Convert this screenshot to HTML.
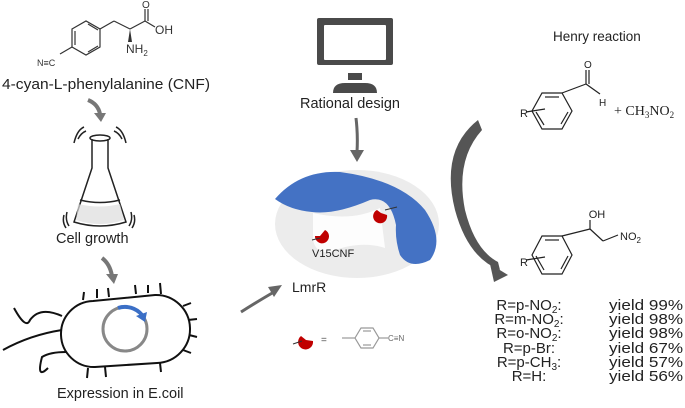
<!DOCTYPE html>
<html><head><meta charset="utf-8"><style>
html,body{margin:0;padding:0;background:#fff;}
svg{display:block;font-family:"Liberation Sans",Arial,sans-serif;}
</style></head><body>
<svg width="685" height="408" viewBox="0 0 685 408" xmlns="http://www.w3.org/2000/svg">
<!-- CNF molecule -->
<g stroke="#333" stroke-width="1.2" fill="none">
<polygon points="72,29 86,21 100,29 100,47 86,55 72,47"/>
<line x1="75" y1="31" x2="75" y2="45"/><line x1="88" y1="24" x2="98" y2="30"/><line x1="88" y1="52" x2="98" y2="46"/>
<line x1="72" y1="47" x2="60" y2="54"/>
<line x1="100" y1="29" x2="114" y2="21"/><line x1="114" y1="21" x2="130" y2="29"/><line x1="130" y1="29" x2="145" y2="21"/>
<line x1="145" y1="21" x2="145" y2="9"/><line x1="148" y1="21" x2="148" y2="9"/><line x1="145" y1="21" x2="155" y2="27"/>
</g>
<polygon points="130,29 128,42 132,42" fill="#333"/>
<text x="37" y="66" font-size="9" fill="#333">N≡C</text>
<text x="142" y="8" font-size="10" fill="#333">O</text>
<text x="155" y="34" font-size="12" fill="#333">OH</text>
<text x="126" y="53" font-size="12" fill="#333">NH<tspan font-size="8" dy="3">2</tspan></text>
<text x="2" y="89" font-size="15" fill="#222" textLength="208" lengthAdjust="spacingAndGlyphs">4-cyan-L-phenylalanine (CNF)</text>
<!-- arrow 1 -->
<path d="M88,100 Q98,104 100,114" stroke="#777" stroke-width="4" fill="none"/>
<polygon points="94,113 106,113 101,122" fill="#777"/>
<!-- flask -->
<g stroke="#222" stroke-width="1.5" fill="none">
<ellipse cx="100" cy="138" rx="10" ry="3"/>
<path d="M92,139 L92,168 L74,222 Q100,230 126,222 L108,168 L108,139"/>
<path d="M80,200 Q100,205 120,200"/>
<path d="M78,139 Q81,133 86,131 M74,143 Q77,130 84,127 M114,131 Q119,133 122,139 M116,127 Q123,130 126,143"/>
<path d="M64,215 Q62,222 66,228 M67,212 Q65,220 69,226 M134,215 Q136,222 132,228 M131,212 Q133,220 129,226"/>
</g>
<path d="M78,204 Q100,209 120,204 L124,220 Q100,228 76,220 Z" fill="#ddd" opacity="0.7"/>
<text x="56" y="243" font-size="14.5" fill="#222">Cell growth</text>
<!-- arrow 2 -->
<path d="M102,258 Q110,264 112,276" stroke="#777" stroke-width="4" fill="none"/>
<polygon points="106,274 118,274 114,284" fill="#777"/>
<!-- bacterium -->
<g stroke="#111" stroke-width="2" fill="none">
<path d="M93,301 L155,295 A34,34 0 0 1 157,363 L95,367 A33,33 0 0 1 93,301 Z"/>
<path d="M84,292 L83,300 M97,289 L97,298 M108,288 L109,297 M135,285 L136,294 M148,285 L148,293 M160,283 L161,294 M183,306 L191,303 M188,320 L197,319 M189,335 L197,337 M183,350 L191,353 M88,368 L87,378 M105,367 L106,377 M160,363 L161,372"/>
<path d="M62,316 Q40,306 30,320 Q26,330 14,308 M62,330 Q30,335 3,350 M66,352 Q50,352 42,357 Q36,380 48,368"/>
</g>
<circle cx="125" cy="329" r="22" stroke="#888" stroke-width="3" fill="none"/>
<path d="M118,308 A22,22 0 0 1 142,315" stroke="#3b6fc6" stroke-width="4" fill="none"/>
<polygon points="136,316 147,312 145,322" fill="#3b6fc6"/>
<text x="57" y="398" font-size="14.5" fill="#222">Expression in E.coil</text>
<!-- monitor -->
<rect x="317" y="18" width="76" height="47" rx="2" fill="#4a4a4a"/>
<rect x="324" y="25" width="62" height="35" rx="1" fill="#fff"/>
<rect x="348" y="73" width="14" height="7" fill="#4a4a4a"/>
<path d="M333,93 Q333,83 345,83 L365,83 Q377,83 377,93 Z" fill="#4a4a4a"/>
<text x="300" y="108" font-size="14.5" fill="#222">Rational design</text>
<!-- arrow 3 -->
<path d="M356,118 Q358,135 357,152" stroke="#666" stroke-width="3" fill="none"/>
<polygon points="350,150 364,150 357,162" fill="#666"/>
<!-- protein -->
<ellipse cx="357" cy="224" rx="82" ry="54" fill="#ececec"/>
<path d="M313,213 Q352,222 380,208 L385,248 Q360,240 330,252 Q316,254 313,240 Z" fill="#fff" opacity="0.9"/>
<path d="M275,199 Q300,170 340,172 Q400,180 425,210 Q445,240 430,260 Q410,270 400,255 Q395,240 396,225 Q390,195 370,200 Q335,215 312,212 Q290,210 275,199 Z" fill="#4472c4"/>
<path d="M315,236 A7,7 0 1 0 325,230 L320,236 Z" fill="#c00000"/>
<line x1="312" y1="240" x2="320" y2="238" stroke="#333" stroke-width="1"/>
<path d="M377,210 A7,7 0 1 0 387,215 L381,213 Z" fill="#c00000"/>
<line x1="385" y1="210" x2="397" y2="207" stroke="#333" stroke-width="1"/>
<text x="312" y="257" font-size="11" fill="#222">V15CNF</text>
<text x="292" y="292" font-size="14" fill="#222">LmrR</text>
<!-- arrow 4 -->
<path d="M241,312 Q260,300 274,292" stroke="#666" stroke-width="3" fill="none"/>
<polygon points="268,287 282,285 274,297" fill="#666"/>
<!-- legend -->
<path d="M301,336 A7.5,7.5 0 1 0 313,341 L306,340 Z" fill="#c00000"/>
<line x1="293" y1="344" x2="302" y2="341" stroke="#333" stroke-width="1"/>
<text x="321" y="343" font-size="10" fill="#555">=</text>
<g stroke="#999" stroke-width="1.2" fill="none">
<line x1="342" y1="338" x2="355" y2="338"/>
<polygon points="355,338 361,328 373,328 379,338 373,348 361,348"/>
<line x1="363" y1="331" x2="371" y2="331"/><line x1="363" y1="345" x2="371" y2="345"/>
<line x1="379" y1="338" x2="388" y2="338"/>
</g>
<text x="388" y="341" font-size="8" fill="#666">C≡N</text>
<!-- Henry -->
<text x="553" y="41" font-size="13.5" fill="#222">Henry reaction</text>
<g stroke="#222" stroke-width="1.2" fill="none">
<polygon points="542,93 562,93 572,111 562,129 542,129 532,111"/>
<line x1="545" y1="97" x2="559" y2="97"/>
<line x1="536" y1="112" x2="544" y2="125"/>
<line x1="568" y1="112" x2="561" y2="124"/>
<line x1="562" y1="93" x2="586" y2="84"/>
<line x1="586" y1="84" x2="586" y2="70"/><line x1="589" y1="84" x2="589" y2="70"/>
<line x1="586" y1="84" x2="600" y2="94"/>
<line x1="526" y1="112" x2="545" y2="109"/>
</g>
<text x="584" y="68" font-size="10" fill="#222">O</text>
<text x="599" y="106" font-size="10" fill="#222">H</text>
<text x="520" y="117" font-size="11" fill="#222">R</text>
<text x="614" y="115" font-size="14" fill="#222" font-family="Liberation Serif,serif">+ CH<tspan font-size="9" dy="3">3</tspan><tspan dy="-3">NO</tspan><tspan font-size="9" dy="3">2</tspan></text>
<!-- curved arrow -->
<path d="M478,120 Q440,150 455,210 Q468,258 500,270 L498,262 Q475,250 465,210 Q455,160 482,130 Z" fill="#555"/>
<polygon points="490,264 508,275 494,282" fill="#555"/>
<!-- product -->
<g stroke="#222" stroke-width="1.2" fill="none">
<polygon points="542,236 562,236 572,255 562,274 542,274 532,255"/>
<line x1="545" y1="240" x2="559" y2="240"/>
<line x1="536" y1="256" x2="544" y2="270"/>
<line x1="568" y1="256" x2="561" y2="269"/>
<line x1="562" y1="236" x2="590" y2="229"/>
<line x1="590" y1="229" x2="590" y2="220"/>
<line x1="590" y1="229" x2="603" y2="241"/>
<line x1="603" y1="241" x2="618" y2="235"/>
<line x1="526" y1="260" x2="545" y2="257"/>
</g>
<text x="597" y="218" font-size="11" fill="#222" text-anchor="middle">OH</text>
<text x="620" y="240" font-size="11" fill="#222">NO<tspan font-size="8" dy="3">2</tspan></text>
<text x="520" y="266" font-size="11" fill="#222">R</text>
<!-- yields -->
<g font-size="15" fill="#222">
<text x="529" y="310" text-anchor="middle">R=p-NO<tspan font-size="10" dy="3">2</tspan><tspan dy="-3">:</tspan></text>
<text x="529" y="324" text-anchor="middle">R=m-NO<tspan font-size="10" dy="3">2</tspan><tspan dy="-3">:</tspan></text>
<text x="529" y="338" text-anchor="middle">R=o-NO<tspan font-size="10" dy="3">2</tspan><tspan dy="-3">:</tspan></text>
<text x="529" y="353" text-anchor="middle">R=p-Br:</text>
<text x="529" y="367" text-anchor="middle">R=p-CH<tspan font-size="10" dy="3">3</tspan><tspan dy="-3">:</tspan></text>
<text x="529" y="381" text-anchor="middle">R=H:</text>
<text x="609" y="310" textLength="74" lengthAdjust="spacingAndGlyphs">yield 99%</text>
<text x="609" y="324" textLength="74" lengthAdjust="spacingAndGlyphs">yield 98%</text>
<text x="609" y="338" textLength="74" lengthAdjust="spacingAndGlyphs">yield 98%</text>
<text x="609" y="353" textLength="74" lengthAdjust="spacingAndGlyphs">yield 67%</text>
<text x="609" y="367" textLength="74" lengthAdjust="spacingAndGlyphs">yield 57%</text>
<text x="609" y="381" textLength="74" lengthAdjust="spacingAndGlyphs">yield 56%</text>
</g>
</svg>
</body></html>
